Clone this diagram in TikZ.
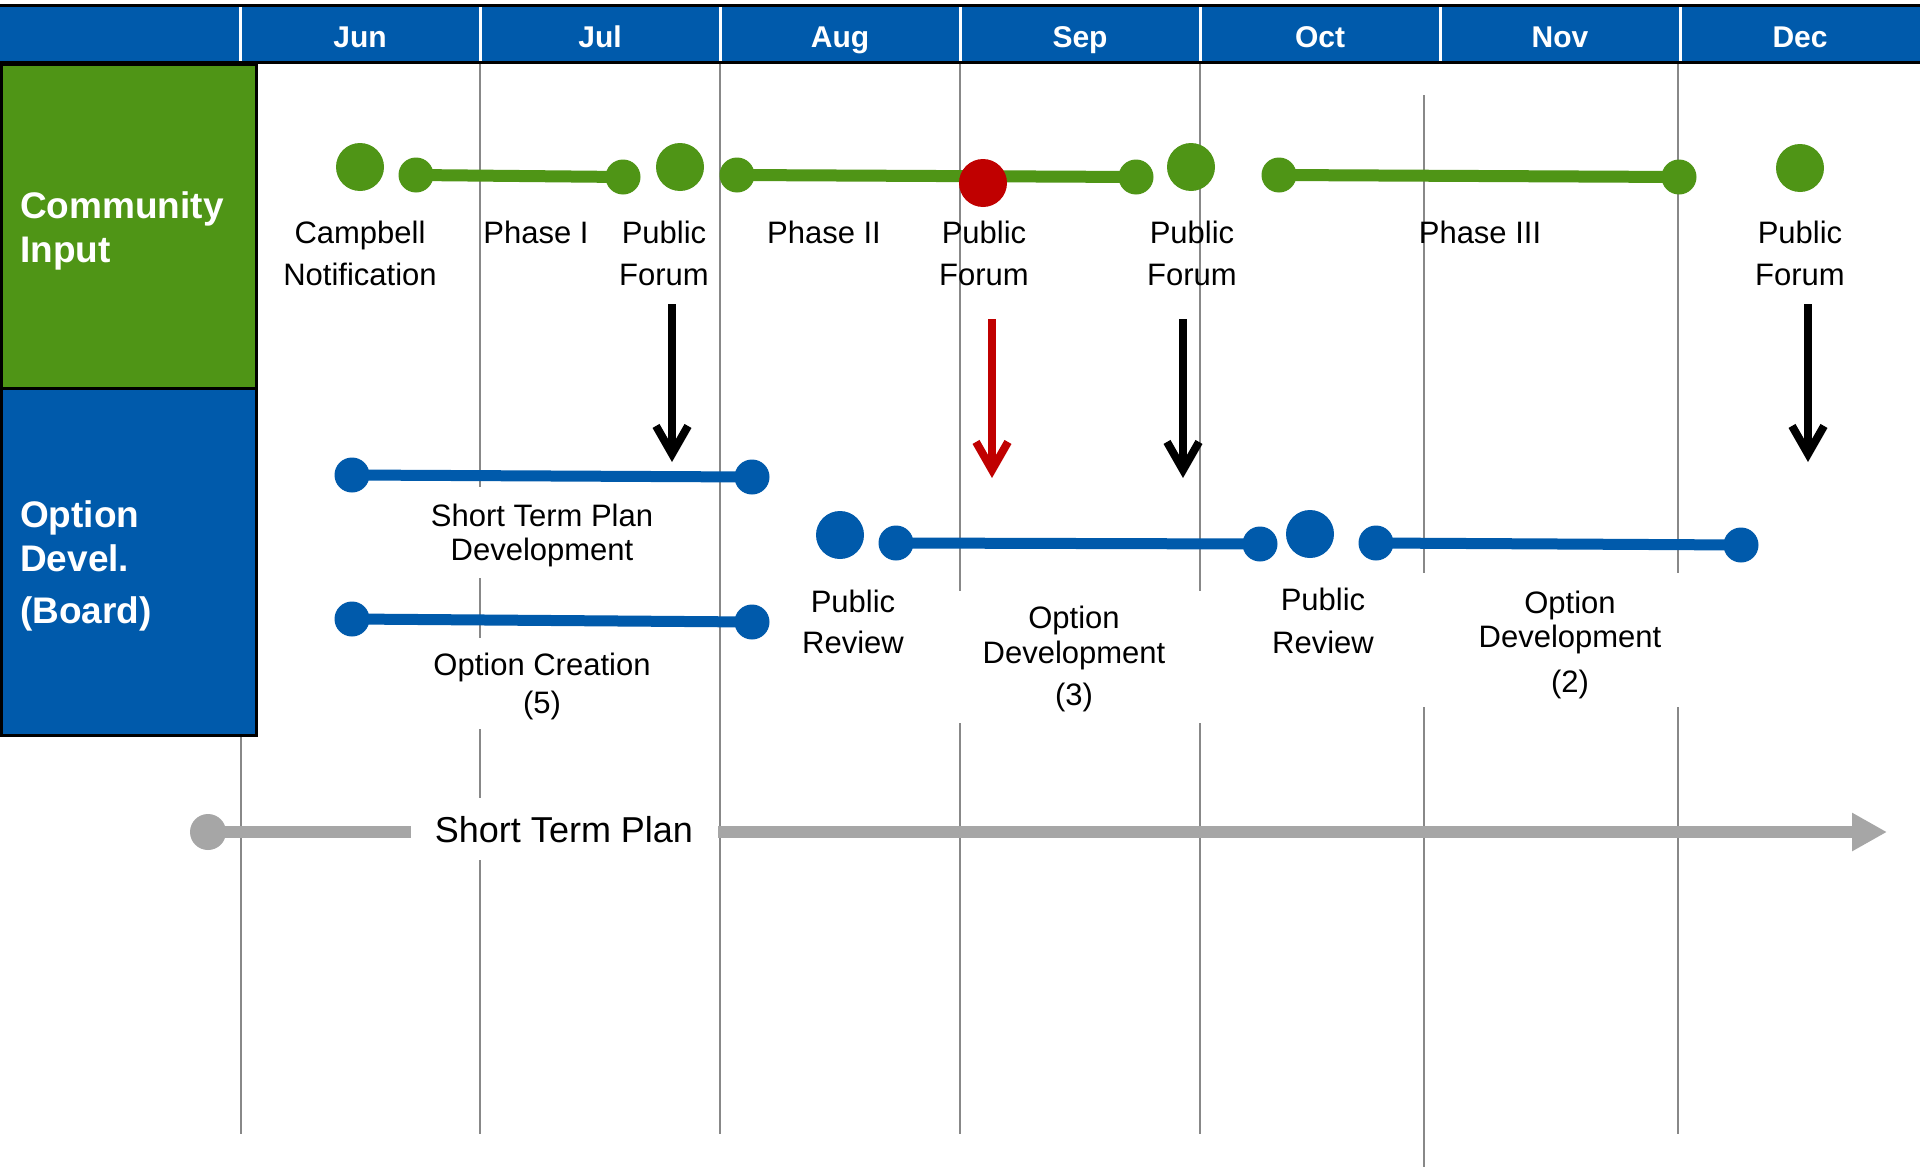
\documentclass[tikz,border=0pt]{standalone}
\usepackage{fontspec}
\setmainfont{Liberation Sans}
\usetikzlibrary{arrows.meta}
\definecolor{hblue}{RGB}{0,90,171}
\definecolor{cgreen}{RGB}{79,149,22}
\definecolor{cred}{RGB}{192,0,0}
\definecolor{cgrey}{RGB}{166,166,166}
\definecolor{vline}{RGB}{136,136,136}
\begin{document}
\begin{tikzpicture}[x=1pt,y=-1pt,
  bigdot/.style={circle,inner sep=0pt,minimum size=48pt},
  smalldot/.style={circle,inner sep=0pt,minimum size=35pt},
  gline/.style={draw=cgreen,line width=12pt},
  bline/.style={draw=hblue,line width=11pt},
  lbl/.style={font=\fontsize{31}{37}\selectfont, inner sep=0pt, anchor=base},
  monthlbl/.style={font=\fontsize{30}{36}\selectfont\bfseries, text=white, inner sep=0pt, anchor=base},
  sidelbl/.style={font=\fontsize{37}{44}\selectfont\bfseries, text=white, inner sep=0pt, anchor=base west},
  vgrid/.style={draw=vline,line width=2pt},
  wbox/.style={fill=white, inner sep=0pt, rectangle},
  dnarrow/.style={line width=8pt, -{Straight Barb[length=28pt,width=32pt]}},
]
\useasboundingbox (0,0) rectangle (1920,1167);
\fill[white] (0,0) rectangle (1920,1167);

% vertical grid lines
\foreach \gx in {241,480,720,960,1200,1678}{
  \draw[vgrid] (\gx,64) -- (\gx,1134);
}
\draw[vgrid] (1424,95) -- (1424,1167);

% header
\fill[hblue] (0,7) rectangle (1920,61);
\draw[line width=3pt] (0,5.5) -- (1920,5.5);
\draw[line width=3pt] (0,62.5) -- (1920,62.5);
\foreach \dx in {240.5,480,720,960,1200,1440,1680}{
  \draw[white,line width=3pt] (\dx,7) -- (\dx,61);
}
\node[monthlbl] (mJun) at (360,47) {Jun};
\node[monthlbl] (mJul) at (600,47) {Jul};
\node[monthlbl] (mAug) at (840,47) {Aug};
\node[monthlbl] (mSep) at (1080,47) {Sep};
\node[monthlbl] (mOct) at (1320,47) {Oct};
\node[monthlbl] (mNov) at (1560,47) {Nov};
\node[monthlbl] (mDec) at (1800,47) {Dec};

% left boxes
\draw[fill=cgreen,line width=3pt] (1.5,64) rectangle (256.5,388.5);
\draw[fill=hblue,line width=3pt] (1.5,388.5) rectangle (256.5,735.5);
\node[sidelbl] (sCom) at (20,218) {Community};
\node[sidelbl] (sInp) at (20,262) {Input};
\node[sidelbl] (sOpt) at (20,527) {Option};
\node[sidelbl] (sDev) at (20,571) {Devel.};
\node[sidelbl] (sBrd) at (20,623) {(Board)};

% community input timeline
\node[bigdot,fill=cgreen] (g1) at (360,167) {};
\node[smalldot,fill=cgreen] (g2a) at (416,175) {};
\node[smalldot,fill=cgreen] (g2b) at (623,177) {};
\node[bigdot,fill=cgreen] (g3) at (680,167) {};
\node[smalldot,fill=cgreen] (g4a) at (737,175) {};
\node[smalldot,fill=cgreen] (g4b) at (1136,177) {};
\node[bigdot,fill=cgreen] (g5) at (1191,167) {};
\node[smalldot,fill=cgreen] (g6a) at (1279,175) {};
\node[smalldot,fill=cgreen] (g6b) at (1679,177) {};
\node[bigdot,fill=cgreen] (g7) at (1800,168) {};
\draw[gline] (g2a.center) -- (g2b.center);
\draw[gline] (g4a.center) -- (g4b.center);
\draw[gline] (g6a.center) -- (g6b.center);
\node[bigdot,fill=cred] (r1) at (983,183) {};

% community labels
\node[lbl] (t1a) at (360,243) {Campbell};
\node[lbl] (t1b) at (360,285) {Notification};
\node[lbl] (t2) at (536,243) {Phase I};
\node[lbl] (t3a) at (664,243) {Public};
\node[lbl] (t3b) at (664,285) {Forum};
\node[lbl] (t4) at (824,243) {Phase II};
\node[lbl] (t5a) at (984,243) {Public};
\node[lbl] (t5b) at (984,285) {Forum};
\node[lbl] (t6a) at (1192,243) {Public};
\node[lbl] (t6b) at (1192,285) {Forum};
\node[lbl] (t7) at (1480,243) {Phase III};
\node[lbl] (t8a) at (1800,243) {Public};
\node[lbl] (t8b) at (1800,285) {Forum};

% arrows
\coordinate (a1s) at (672,304); \coordinate (a1e) at (672,462);
\coordinate (a2s) at (992,319); \coordinate (a2e) at (992,478);
\coordinate (a3s) at (1183,319); \coordinate (a3e) at (1183,478);
\coordinate (a4s) at (1808,304); \coordinate (a4e) at (1808,462);
\draw[dnarrow,black] (a1s) -- (a1e);
\draw[dnarrow,cred] (a2s) -- (a2e);
\draw[dnarrow,black] (a3s) -- (a3e);
\draw[dnarrow,black] (a4s) -- (a4e);

% option development timeline
\node[smalldot,fill=hblue] (b1a) at (352,475) {};
\node[smalldot,fill=hblue] (b1b) at (752,477) {};
\node[smalldot,fill=hblue] (b2a) at (352,619) {};
\node[smalldot,fill=hblue] (b2b) at (752,622) {};
\node[bigdot,fill=hblue] (b3) at (840,535) {};
\node[smalldot,fill=hblue] (b4a) at (896,543) {};
\node[smalldot,fill=hblue] (b4b) at (1260,544) {};
\node[bigdot,fill=hblue] (b5) at (1310,534) {};
\node[smalldot,fill=hblue] (b6a) at (1376,543) {};
\node[smalldot,fill=hblue] (b6b) at (1741,545) {};
\draw[bline] (b1a.center) -- (b1b.center);
\draw[bline] (b2a.center) -- (b2b.center);
\draw[bline] (b4a.center) -- (b4b.center);
\draw[bline] (b6a.center) -- (b6b.center);

% option labels with white backgrounds
\node[wbox,minimum width=244pt,minimum height=91pt] (w1) at (542,532.5) {};
\node[lbl] (u1a) at (542,526) {Short Term Plan};
\node[lbl] (u1b) at (542,560) {Development};
\node[wbox,minimum width=244pt,minimum height=91pt] (w2) at (542,683.5) {};
\node[lbl] (u2a) at (542,675) {Option Creation};
\node[lbl] (u2b) at (542,713) {(5)};
\node[lbl] (u3a) at (853,612) {Public};
\node[lbl] (u3b) at (853,653) {Review};
\node[wbox,minimum width=256pt,minimum height=132pt] (w4) at (1074,657) {};
\node[lbl] (u4a) at (1074,628) {Option};
\node[lbl] (u4b) at (1074,663) {Development};
\node[lbl] (u4c) at (1074,705) {(3)};
\node[lbl] (u5a) at (1323,610) {Public};
\node[lbl] (u5b) at (1323,653) {Review};
\node[wbox,minimum width=258pt,minimum height=134pt] (w6) at (1551,640) {};
\node[lbl] (u6a) at (1570,613) {Option};
\node[lbl] (u6b) at (1570,647) {Development};
\node[lbl] (u6c) at (1570,692) {(2)};

% bottom short term plan arrow
\node[circle,inner sep=0pt,minimum size=36pt,fill=cgrey] (p0) at (208,832) {};
\coordinate (p1) at (1887,832);
\draw[draw=cgrey,line width=12pt,-{Triangle[length=35pt,width=36pt]}] (p0.center) -- (p1);
\node[wbox,minimum width=307pt,minimum height=62pt] (w7) at (564.5,829) {};
\node[font=\fontsize{36}{42}\selectfont, inner sep=0pt, anchor=base] (stp) at (564,842) {Short Term Plan};
\end{tikzpicture}
\end{document}
